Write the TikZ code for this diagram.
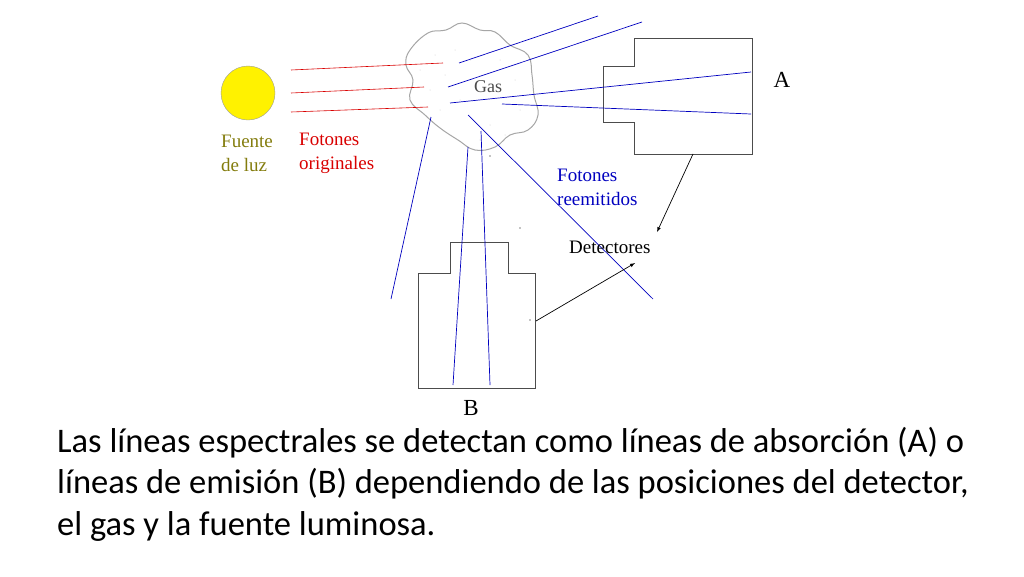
\documentclass[tikz,border=0pt]{standalone}
\usepackage{fontspec}
\setmainfont{Liberation Serif}
\newfontfamily\bodyfont{Carlito}
\begin{document}
\begin{tikzpicture}[x=1pt,y=-1pt,
  red ray/.style={draw=red!85!black, line width=0.6pt},
  blue ray/.style={draw=blue!75!black, line width=0.7pt},
  det/.style={draw=black!70, line width=0.8pt},
  lbl/.style={font=\fontsize{19}{24}\selectfont, align=left, inner sep=0pt}]
\useasboundingbox (0,0) rectangle (1024,576);
% sun
\node[circle, draw=black!40, fill=yellow, minimum size=54pt, inner sep=0pt] (sun) at (248,93) {};
% cloud
\draw[draw=black!35, line width=1pt, fill=white] plot[smooth cycle, tension=0.7] coordinates {
 (410,50) (428,33) (446,30) (462,23) (480,30) (495,32) (510,45) (528,55) (532,75) (534,95) (538,115)
 (528,130) (510,135) (495,147) (475,150) (458,140) (440,128) (425,115) (410,100) (413,80) (406,65)};
\foreach \p in {(420,70),(430,90),(440,110),(455,50),(470,60),(500,60),(515,80),(520,110),(490,125),(460,100),(445,75),(480,140),(505,135),(435,55)}
  \fill[black!20] \p circle (0.5);
\node[font=\fontsize{18}{20}\selectfont, text=black!70] (gas) at (488,87) {Gas};
% red rays
\coordinate (r1a) at (291,70); \coordinate (r1b) at (443,63);
\coordinate (r2a) at (291,93); \coordinate (r2b) at (424,87);
\coordinate (r3a) at (291,112); \coordinate (r3b) at (428,107);
\draw[red ray] (r1a) -- (r1b); \draw[red ray] (r2a) -- (r2b); \draw[red ray] (r3a) -- (r3b);
% detectors
\draw[det] (634,38) -- (752,38) -- (752,154) -- (634,154) -- (634,122) -- (603,122) -- (603,66) -- (634,66) -- cycle;
\draw[det] (450,242) -- (508,242) -- (508,273) -- (535,273) -- (535,388) -- (418,388) -- (418,273) -- (450,273) -- cycle;
% blue rays
\coordinate (b1a) at (459,63); \coordinate (b1b) at (598,16);
\coordinate (b2a) at (448,87); \coordinate (b2b) at (642,22);
\coordinate (b3a) at (450,103); \coordinate (b3b) at (751,72);
\coordinate (b4a) at (502,104); \coordinate (b4b) at (751,114);
\coordinate (b5a) at (468,115); \coordinate (b5b) at (653,299);
\coordinate (b6a) at (431,117); \coordinate (b6b) at (391,299);
\coordinate (b7a) at (468,147); \coordinate (b7b) at (453,385);
\coordinate (b8a) at (481,131); \coordinate (b8b) at (490,385);
\foreach \i in {1,...,8} \draw[blue ray] (b\i a) -- (b\i b);
% labels
\node[lbl, text=black] (A) at (782,80) {\fontsize{23}{24}\selectfont A};
\node[lbl, text=black] (B) at (471,408) {\fontsize{23}{24}\selectfont B};
\node[lbl, text=olive!90!black, anchor=west] (fuente) at (221,153) {Fuente\\de luz};
\node[lbl, text=red!85!black, anchor=west] (orig) at (299,153) {Fotones\\originales};
\node[lbl, text=blue!75!black, anchor=west] (reem) at (557,187) {Fotones\\reemitidos};
\node[lbl, anchor=west] (dets) at (569,247) {Detectores};
\coordinate (aA) at (693,154); \coordinate (aB) at (536,321);
\draw[-latex, line width=0.7pt] (aA) -- (657,232);
\draw[-latex, line width=0.7pt] (aB) -- (635,263);
\fill (520,228) circle (0.7); \fill (530,320) circle (0.7); \fill (490,156) circle (0.6);
% caption
\node[anchor=north west, align=left, inner sep=0pt, font=\bodyfont\fontsize{34.5}{41.5}\selectfont] (cap) at (57,427)
 {Las líneas espectrales se detectan como líneas de absorción (A) o\\líneas de emisión (B) dependiendo de las posiciones del detector,\\el gas y la fuente luminosa.};
\end{tikzpicture}
\end{document}
